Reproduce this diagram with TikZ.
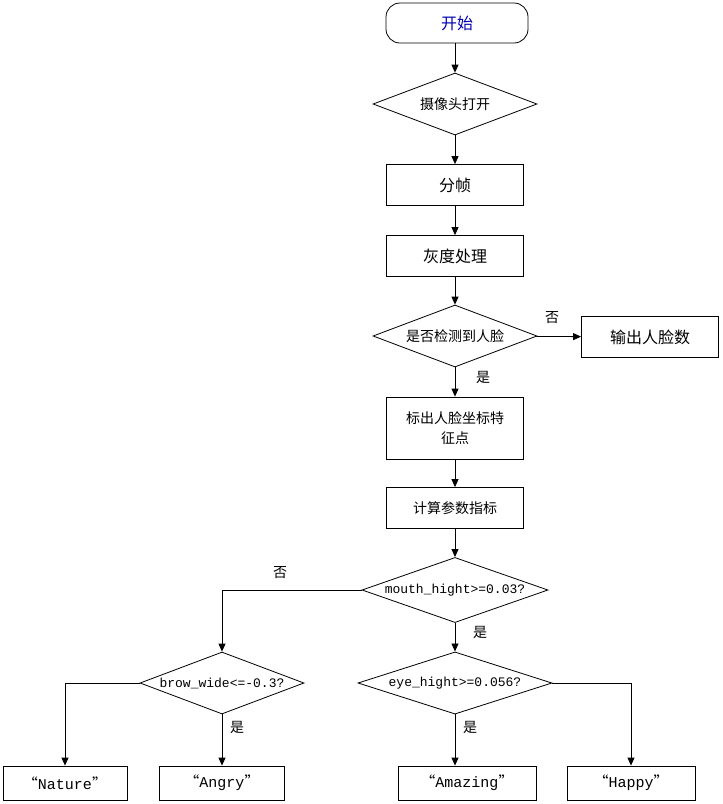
\documentclass[tikz,border=0pt]{standalone}
\usepackage{fontspec}
\newfontfamily\cjk{Noto Sans CJK SC}
\setmonofont{Liberation Mono}
\usetikzlibrary{shapes.geometric,arrows.meta}
\begin{document}
\begin{tikzpicture}[x=1pt,y=-1pt,
  box/.style={draw,thick,minimum width=137pt,minimum height=41pt,font=\cjk\fontsize{16}{18}\selectfont,inner sep=2pt,align=center},
  dia/.style={draw,thick,diamond,aspect=2.65,minimum width=164pt,minimum height=62pt,inner sep=0pt,font=\cjk\fontsize{14}{16}\selectfont},
  lab/.style={font=\cjk\fontsize{14}{16}\selectfont},
  arr/.style={thick,-{Triangle[length=8pt,width=7pt]}}]
\useasboundingbox (0,0) rectangle (723,804);
\node[box,rounded corners=14pt,minimum width=142pt,minimum height=40pt,text=blue!70!black] (start) at (457,23) {开始};
\node[dia] (cam) at (455,104) {摄像头打开};
\node[box] (fz) at (455,185) {分帧};
\node[box] (gray) at (455,256) {灰度处理};
\node[dia] (det) at (455,336) {是否检测到人脸};
\node[box] (out) at (650,337) {输出人脸数};
\node[box,minimum height=62pt,font=\cjk\fontsize{14}{20}\selectfont] (mark) at (455,428) {标出人脸坐标特\\征点};
\node[box,font=\cjk\fontsize{14}{16}\selectfont] (calc) at (455,508) {计算参数指标};
\node[dia,minimum width=186pt,font=\ttfamily\fontsize{13}{15}\selectfont] (mouth) at (455,590) {mouth\_hight>=0.03?};
\node[dia,font=\ttfamily\fontsize{13}{15}\selectfont] (brow) at (222,683) {brow\_wide<=-0.3?};
\node[dia,minimum width=194pt,font=\ttfamily\fontsize{13}{15}\selectfont] (eye) at (455,683) {eye\_hight>=0.056?};
\node[box,minimum width=124pt,minimum height=34pt,font=\ttfamily\fontsize{15}{17}\selectfont] (nat) at (65,783) {{\cjk “}Nature{\cjk ”}};
\node[box,minimum width=125pt,minimum height=34pt,font=\ttfamily\fontsize{15}{17}\selectfont] (ang) at (222,783) {{\cjk “}Angry{\cjk ”}};
\node[box,minimum width=138pt,minimum height=34pt,font=\ttfamily\fontsize{15}{17}\selectfont] (ama) at (467,783) {{\cjk “}Amazing{\cjk ”}};
\node[box,minimum width=128pt,minimum height=34pt,font=\ttfamily\fontsize{15}{17}\selectfont] (hap) at (631,783) {{\cjk “}Happy{\cjk ”}};
\draw[arr] (cam.north|-start.south) -- (cam);
\draw[arr] (cam) -- (fz);
\draw[arr] (fz) -- (gray);
\draw[arr] (gray) -- (det);
\draw[arr] (det) -- (out);
\draw[arr] (det) -- (mark);
\draw[arr] (mark) -- (calc);
\draw[arr] (calc) -- (mouth);
\draw[arr] (mouth.west) -| (brow.north);
\draw[arr] (mouth) -- (eye);
\draw[arr] (brow.west) -| (nat.north);
\draw[arr] (brow) -- (ang);
\draw[arr] (eye.south) -- (eye.south|-ama.north);
\draw[arr] (eye.east) -| (hap.north);
\node[lab] (l1) at (552,318) {否};
\node[lab] (l2) at (483,377) {是};
\node[lab] (l3) at (280,573) {否};
\node[lab] (l4) at (480,632) {是};
\node[lab] (l5) at (237,727) {是};
\node[lab] (l6) at (470,727) {是};
\end{tikzpicture}
\end{document}
